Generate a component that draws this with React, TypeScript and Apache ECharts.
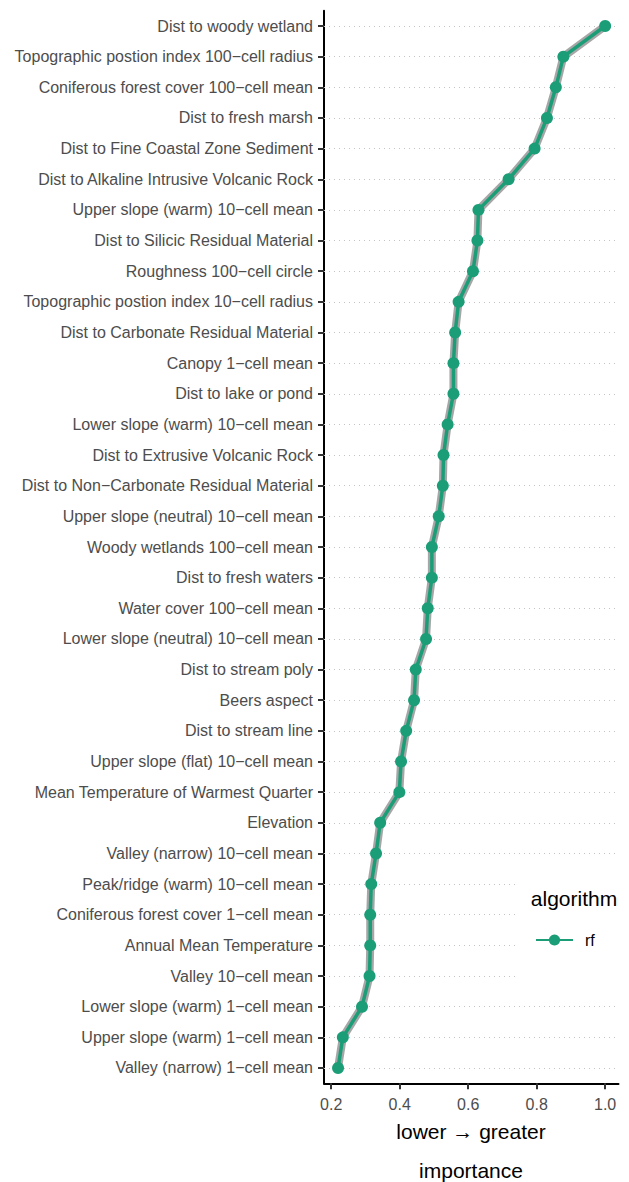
import React, { useEffect, useRef } from "react";
import * as echarts from "echarts";

const categories: string[] = [
  "Dist to woody wetland",
  "Topographic postion index 100−cell radius",
  "Coniferous forest cover 100−cell mean",
  "Dist to fresh marsh",
  "Dist to Fine Coastal Zone Sediment",
  "Dist to Alkaline Intrusive Volcanic Rock",
  "Upper slope (warm) 10−cell mean",
  "Dist to Silicic Residual Material",
  "Roughness 100−cell circle",
  "Topographic postion index 10−cell radius",
  "Dist to Carbonate Residual Material",
  "Canopy 1−cell mean",
  "Dist to lake or pond",
  "Lower slope (warm) 10−cell mean",
  "Dist to Extrusive Volcanic Rock",
  "Dist to Non−Carbonate Residual Material",
  "Upper slope (neutral) 10−cell mean",
  "Woody wetlands 100−cell mean",
  "Dist to fresh waters",
  "Water cover 100−cell mean",
  "Lower slope (neutral) 10−cell mean",
  "Dist to stream poly",
  "Beers aspect",
  "Dist to stream line",
  "Upper slope (flat) 10−cell mean",
  "Mean Temperature of Warmest Quarter",
  "Elevation",
  "Valley (narrow) 10−cell mean",
  "Peak/ridge (warm) 10−cell mean",
  "Coniferous forest cover 1−cell mean",
  "Annual Mean Temperature",
  "Valley 10−cell mean",
  "Lower slope (warm) 1−cell mean",
  "Upper slope (warm) 1−cell mean",
  "Valley (narrow) 1−cell mean",
];

const rfImportance: number[] = [
  1.0, 0.878, 0.856, 0.83, 0.794, 0.718, 0.63, 0.627, 0.614, 0.572, 0.562,
  0.557, 0.557, 0.54, 0.528, 0.526, 0.514, 0.494, 0.494, 0.482, 0.477, 0.447,
  0.442, 0.419, 0.404, 0.399, 0.343, 0.331, 0.317, 0.314, 0.314, 0.312, 0.29,
  0.234, 0.22,
];

const xTicks: number[] = [0.2, 0.4, 0.6, 0.8, 1.0];
const seriesName = "rf";
const legendTitle = "algorithm";
const xTitle1 = "lower → greater";
const xTitle2 = "importance";

const FONT = "'Liberation Sans', Arial, Helvetica, sans-serif";

export default function App() {
  const ref = useRef<HTMLDivElement>(null);
  useEffect(() => {
    document.body.style.margin = "0";
    if (!ref.current) return;
    const chart = echarts.init(ref.current, null, { renderer: "svg" });
    chart.setOption({
      animation: false,
      backgroundColor: "#ffffff",
      textStyle: { fontFamily: FONT },
      grid: { left: 324, right: 10.5, top: 10.7, bottom: 98.7 },
      xAxis: {
        type: "value",
        min: 0.179,
        max: 1.039,
        axisLine: { show: true, lineStyle: { color: "#000", width: 2 } },
        axisTick: {
          show: true,
          length: 6,
          lineStyle: { color: "#333", width: 2 },
          customValues: xTicks,
        },
        axisLabel: {
          color: "#4d4d4d",
          fontSize: 16,
          margin: 13,
          customValues: xTicks,
          formatter: (v: number) => v.toFixed(1),
        },
        splitLine: { show: false },
      },
      yAxis: {
        type: "category",
        data: categories,
        inverse: true,
        boundaryGap: true,
        axisLine: { show: true, lineStyle: { color: "#000", width: 2 } },
        axisTick: {
          show: true,
          alignWithLabel: true,
          length: 6,
          lineStyle: { color: "#333", width: 2 },
        },
        axisLabel: { color: "#4d4d4d", fontSize: 16, margin: 11 },
        splitLine: { show: false },
      },
      legend: {
        data: [seriesName],
        orient: "vertical",
        left: 515,
        top: 870,
        padding: [62, 30, 42, 20],
        backgroundColor: "#ffffff",
        itemWidth: 37,
        itemHeight: 14,
        textStyle: { color: "#000", fontSize: 16, padding: [0, 0, 0, 7] },
      },
      graphic: [
        {
          type: "text",
          x: 574,
          y: 898,
          z: 100,
          style: {
            text: legendTitle,
            fontSize: 21,
            fontFamily: FONT,
            fill: "#000",
            align: "center",
            verticalAlign: "middle",
          },
        },
        {
          type: "text",
          x: 471,
          y: 1131,
          style: {
            text: xTitle1,
            fontSize: 21,
            fontFamily: FONT,
            fill: "#000",
            align: "center",
            verticalAlign: "middle",
          },
        },
        {
          type: "text",
          x: 471,
          y: 1170,
          style: {
            text: xTitle2,
            fontSize: 21,
            fontFamily: FONT,
            fill: "#000",
            align: "center",
            verticalAlign: "middle",
          },
        },
      ],
      series: [
        {
          name: "rf-shadow",
          type: "line",
          data: rfImportance,
          showSymbol: false,
          symbol: "none",
          lineStyle: { color: "#909090", width: 8, opacity: 0.8 },
          z: 2,
          silent: true,
          markLine: {
            silent: true,
            symbol: "none",
            label: { show: false },
            lineStyle: { color: "#c4c4c4", type: [1, 4], width: 1 },
            data: categories.map((c) => ({ yAxis: c })),
            z: 1,
          },
        },
        {
          name: seriesName,
          type: "line",
          data: rfImportance,
          symbol: "circle",
          symbolSize: 12,
          itemStyle: { color: "#1b9e77" },
          lineStyle: { color: "#1b9e77", width: 3.5 },
          z: 3,
        },
      ],
    });
    return () => chart.dispose();
  }, []);
  return <div ref={ref} style={{ width: 629, height: 1182 }} />;
}
